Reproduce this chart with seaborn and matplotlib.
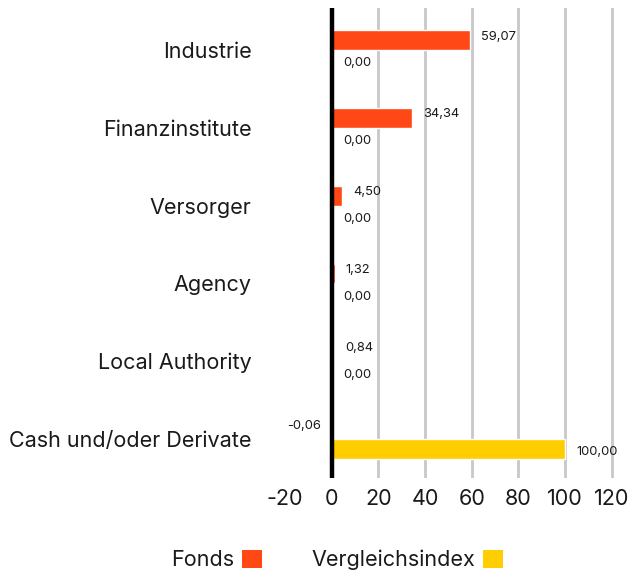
import pandas as pd
import matplotlib.pyplot as plt
import seaborn as sns
from matplotlib.patches import Patch

# Sector allocation data (values in %)
categories = ["Industrie", "Finanzinstitute", "Versorger", "Agency",
              "Local Authority", "Cash und/oder Derivate"]
fonds = [59.07, 34.34, 4.50, 1.32, 0.84, -0.06]
vergleich = [0.00, 0.00, 0.00, 0.00, 0.00, 100.00]
series = ["Fonds", "Vergleichsindex"]
x_ticks = [-20, 0, 20, 40, 60, 80, 100, 120]

colors = {"Fonds": "#FF4815", "Vergleichsindex": "#FFCE00"}

df = pd.DataFrame({
    "Kategorie": categories * 2,
    "Wert": fonds + vergleich,
    "Serie": [series[0]] * len(categories) + [series[1]] * len(categories),
})

sns.set_style("white")
plt.rcParams['font.family'] = ['Inter', 'DejaVu Sans']

fig = plt.figure(figsize=(6.31, 5.73), dpi=100)
ax = fig.add_axes([0.4517, 0.166, 0.529, 0.820])

sns.barplot(data=df, y="Kategorie", x="Wert", hue="Serie", orient="h",
            palette=colors, width=0.51, dodge=True, legend=False,
            saturation=1, ax=ax)

ax.set_xlim(-20, 123)
ax.set_ylim(5.5, -0.54)
ax.set_xticks(x_ticks)
ax.set_xticklabels([str(t) for t in x_ticks])
ax.set_xlabel("")
ax.set_ylabel("")
ax.tick_params(axis="both", length=0, labelsize=15.5, colors="#1a1a1a")
ax.tick_params(axis="y", pad=24)
ax.tick_params(axis="x", pad=8)

for s in ax.spines.values():
    s.set_visible(False)

ax.set_axisbelow(True)
ax.xaxis.grid(True, color="#c8c8c8", lw=2)
ax.get_xgridlines()[0].set_visible(False)
ax.axvline(0, color="black", lw=3.2, zorder=5)

# value labels
for cont, dy in zip(ax.containers, [2.5, -2.5]):
    for bar in cont:
        w = bar.get_width()
        y = bar.get_y() + bar.get_height() / 2
        txt = f"{w:.2f}".replace(".", ",")
        if w < 0:
            ax.annotate(txt, (0, y), xytext=(-8, dy), textcoords="offset points",
                        ha="right", va="center", fontsize=9.3, color="#1a1a1a")
        else:
            ax.annotate(txt, (w, y), xytext=(8, dy), textcoords="offset points",
                        ha="left", va="center", fontsize=9.3, color="#1a1a1a")

handles = [Patch(facecolor=colors[s], edgecolor="none") for s in series]
fig.legend(handles, series, loc="center", bbox_to_anchor=(0.534, 0.023),
           ncol=2, frameon=False, markerfirst=False, fontsize=15.5,
           handlelength=0.93, handleheight=0.93, handletextpad=0.37,
           columnspacing=2.3, labelcolor="#1a1a1a")

fig.savefig("out.png", dpi=100)
